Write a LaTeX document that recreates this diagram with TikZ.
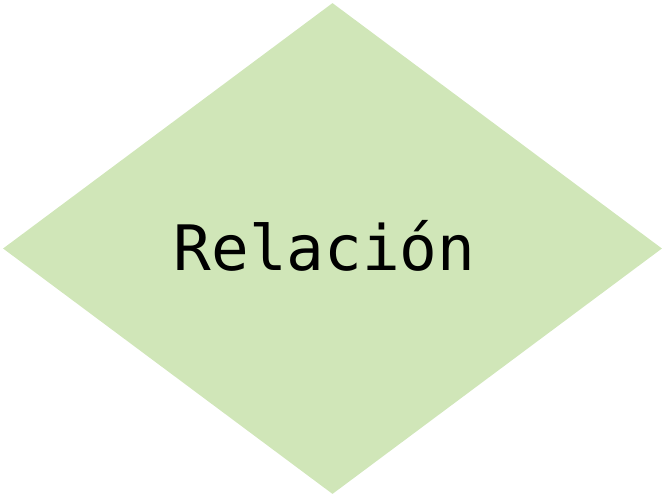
\documentclass[tikz,border=0pt]{standalone}
\usepackage{fontspec}
\setmonofont{DejaVu Sans Mono}
\usepackage{xcolor}
\usepackage{tikz}
\usetikzlibrary{shapes.geometric}
\definecolor{relgreen}{HTML}{D0E6B8}
\definecolor{reltext}{HTML}{000000}
\newlength{\pxu}
\setlength{\pxu}{0.75pt}
\tikzset{
  relbox/.style={diamond,fill=relgreen,draw=none,inner sep=0pt,
    minimum width=659\pxu,minimum height=491\pxu,aspect=1.34},
  reltxt/.style={font=\ttfamily\fontsize{47}{52}\selectfont,text=reltext,inner sep=0pt},
}
\begin{document}
\begin{tikzpicture}[x=\pxu,y=\pxu]
  \useasboundingbox (0,0) rectangle (664,-497);
  \node[relbox] (rel) at (332.5,-248.5) {};
  \node[reltxt] (label) at (324.5,-246) {Relación};
\end{tikzpicture}
\end{document}
